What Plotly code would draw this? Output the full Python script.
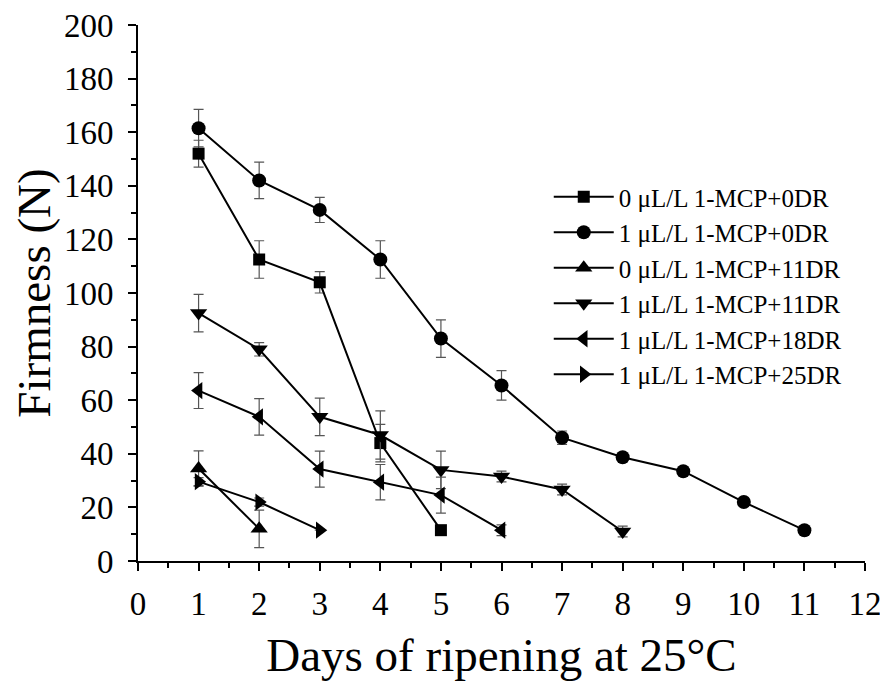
import plotly.graph_objects as go

names = ["0 μL/L 1-MCP+0DR", "1 μL/L 1-MCP+0DR", "0 μL/L 1-MCP+11DR",
         "1 μL/L 1-MCP+11DR", "1 μL/L 1-MCP+18DR", "1 μL/L 1-MCP+25DR"]
symbols = ["square", "circle", "triangle-up", "triangle-down", "triangle-left", "triangle-right"]
msizes = [12, 14, 15, 15, 15, 15]

days_a = [1, 2, 3, 4, 5]
firm_a = [152, 112.5, 104, 44, 11.5]
err_a = [5, 7, 4, 7, 0]

days_b = [1, 2, 3, 4, 5, 6, 7, 8, 9, 10, 11]
firm_b = [161.5, 142, 131, 112.5, 83, 65.5, 46, 38.7, 33.5, 22, 11.5]
err_b = [7, 6.8, 4.7, 7, 7, 5.5, 2.5, 0, 0, 0, 0]

days_c = [1, 2]
firm_c = [34.5, 12]
err_c = [6.6, 7]

days_d = [1, 2, 3, 4, 5, 6, 7, 8]
firm_d = [92.5, 79, 53.8, 47, 34, 31.5, 26.7, 11]
err_d = [7, 2.5, 7, 9, 7, 2, 2, 2]

days_e = [1, 2, 3, 4, 5, 6]
firm_e = [63.6, 53.8, 34.3, 29.4, 24.6, 11.5]
err_e = [6.7, 6.8, 6.7, 6.6, 6.7, 2]

days_f = [1, 2, 3]
firm_f = [29.6, 22, 11.5]
err_f = [1.5, 1.5, 0]

series = [(days_a, firm_a, err_a), (days_b, firm_b, err_b), (days_c, firm_c, err_c),
          (days_d, firm_d, err_d), (days_e, firm_e, err_e), (days_f, firm_f, err_f)]

fig = go.Figure()
for (x, y, e), name, sym, ms in zip(series, names, symbols, msizes):
    fig.add_trace(go.Scatter(
        x=x, y=y, name=name, mode="lines+markers",
        line=dict(color="black", width=2),
        marker=dict(symbol=sym, size=ms, color="black"),
        error_y=dict(type="data", array=e, visible=True, color="#555555",
                     thickness=1.2, width=5),
    ))

font_family = "Liberation Serif"
axis_common = dict(
    automargin=False, showgrid=False, zeroline=False, showline=True,
    linecolor="black", linewidth=2, ticks="outside", ticklen=8, tickwidth=2,
    tickcolor="black", ticklabeloverflow="allow",
    tickfont=dict(size=33, family=font_family),
)
fig.update_layout(
    width=880, height=675,
    margin=dict(l=130, r=23, t=17, b=122),
    paper_bgcolor="white", plot_bgcolor="white",
    font=dict(family=font_family, color="black"),
    showlegend=True,
    legend=dict(x=0.565, y=0.722, xanchor="left", yanchor="top",
                bgcolor="rgba(0,0,0,0)", font=dict(size=25, family=font_family),
                itemwidth=60, tracegroupgap=0),
    xaxis=dict(range=[0, 12], tickmode="linear", tick0=0, dtick=1,
               minor=dict(ticks="outside", ticklen=5, tickwidth=2, dtick=0.5, tickcolor="black", showgrid=False),
               ticklabelstandoff=4,
               title=dict(text="Days of ripening at 25°C", font=dict(size=47, family=font_family), standoff=18),
               **axis_common),
    yaxis=dict(range=[0, 200], tickmode="linear", tick0=0, dtick=20,
               minor=dict(ticks="outside", ticklen=5, tickwidth=2, dtick=10, tickcolor="black", showgrid=False),
               ticklabelstandoff=8,
               title=dict(text="Firmness (N)", font=dict(size=47, family=font_family), standoff=18),
               **axis_common),
)

fig.write_html("out.html")
